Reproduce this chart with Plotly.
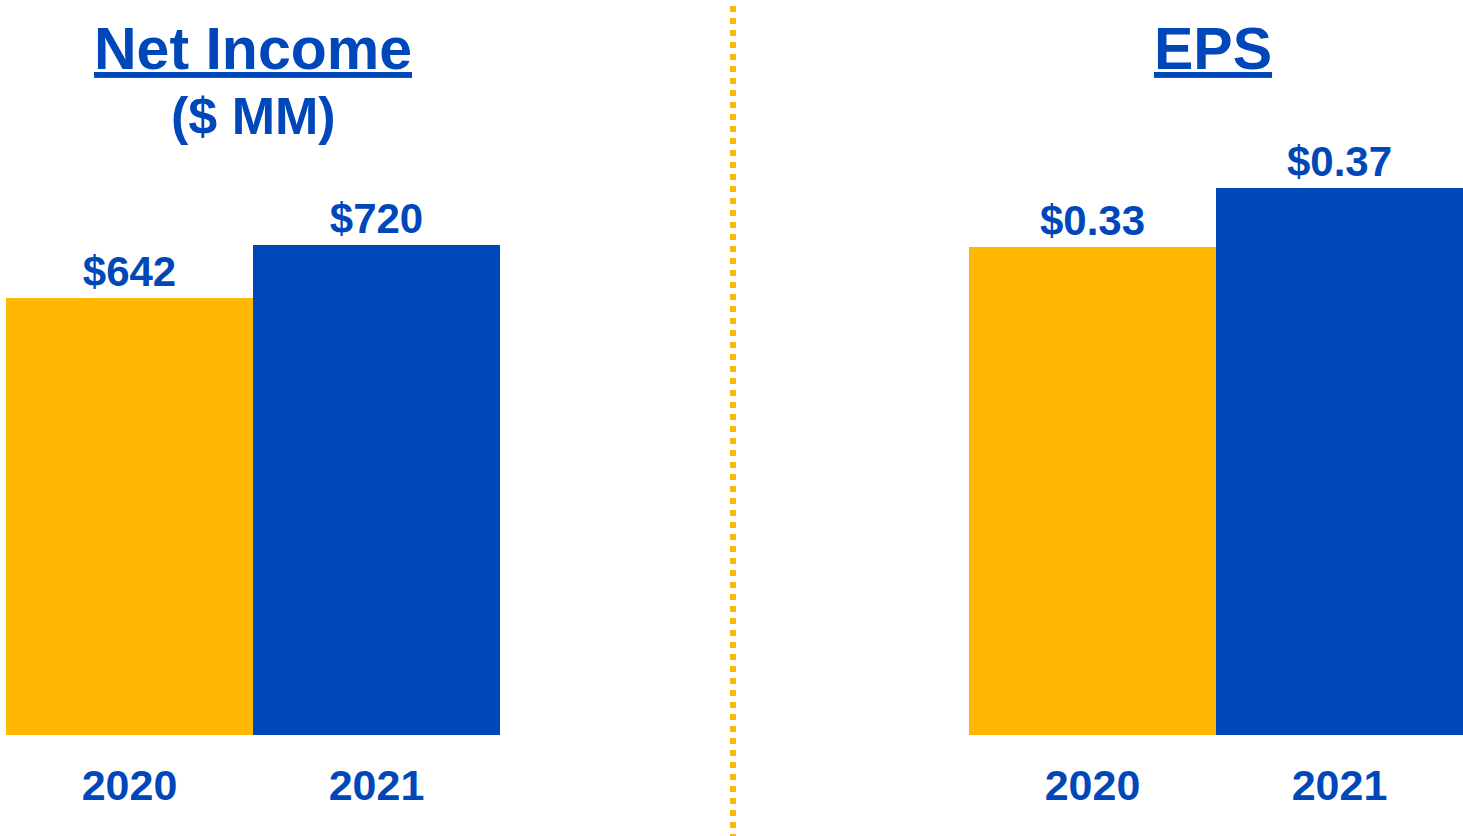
import plotly.graph_objects as go

years = ["2020", "2021"]
net_income = [642, 720]
eps = [0.33, 0.37]
bar_colors = ["#FFB703", "#0047BA"]
text_blue = "#0047BA"
font_family = "Arial, Liberation Sans, sans-serif"

W, H = 1463, 836

fig = go.Figure()
fig.add_trace(go.Bar(
    x=years, y=net_income, xaxis="x", yaxis="y",
    marker=dict(color=bar_colors, line=dict(width=0)),
    texttemplate="$%{y:.0f}", textposition="outside", constraintext="none",
    cliponaxis=False,
    textfont=dict(family=font_family, size=42, color=text_blue, weight="bold"),
    width=1.0, showlegend=False, hoverinfo="skip",
))
fig.add_trace(go.Bar(
    x=years, y=eps, xaxis="x2", yaxis="y2",
    marker=dict(color=bar_colors, line=dict(width=0)),
    texttemplate="$%{y:.2f}", textposition="outside", constraintext="none",
    cliponaxis=False,
    textfont=dict(family=font_family, size=42, color=text_blue, weight="bold"),
    width=1.0, showlegend=False, hoverinfo="skip",
))

ybot = (H - 735) / H
xaxis_common = dict(
    showgrid=False, zeroline=False, showline=False, ticks="",
    tickfont=dict(family=font_family, size=43, color=text_blue, weight="bold"),
    ticklabelstandoff=21, range=[-0.5, 1.5], fixedrange=True,
)
yaxis_common = dict(visible=False, showgrid=False, zeroline=False, fixedrange=True)

fig.update_layout(
    width=W, height=H,
    margin=dict(l=0, r=0, t=0, b=0),
    paper_bgcolor="white", plot_bgcolor="white",
    bargap=0,
    xaxis=dict(domain=[6 / W, 500 / W], anchor="y", **xaxis_common),
    yaxis=dict(domain=[ybot, 1], range=[0, 735 / (437 / 642)], anchor="x", **yaxis_common),
    xaxis2=dict(domain=[969 / W, 1.0], anchor="y2", **xaxis_common),
    yaxis2=dict(domain=[ybot, 1], range=[0, 735 / (488 / 0.33)], anchor="x2", **yaxis_common),
    annotations=[
        dict(text="<u>Net Income</u>", x=253 / W, y=1 - 49 / H, xref="paper", yref="paper",
             xanchor="center", yanchor="middle", showarrow=False,
             font=dict(family=font_family, size=59, color=text_blue, weight="bold")),
        dict(text="($ MM)", x=253 / W, y=1 - 116 / H, xref="paper", yref="paper",
             xanchor="center", yanchor="middle", showarrow=False,
             font=dict(family=font_family, size=52, color=text_blue, weight="bold")),
        dict(text="<u>EPS</u>", x=1213 / W, y=1 - 49 / H, xref="paper", yref="paper",
             xanchor="center", yanchor="middle", showarrow=False,
             font=dict(family=font_family, size=59, color=text_blue, weight="bold")),
    ],
    shapes=[
        dict(type="line", xref="paper", yref="paper", x0=733 / W, x1=733 / W,
             y0=1 + 6 / H, y1=0, line=dict(color="#FFB703", width=6, dash="6px,6px")),
    ],
)

fig.write_html(
    "out.html",
    config={"displayModeBar": False, "staticPlot": True},
    post_script="document.body.style.margin='0';document.body.style.overflow='hidden';",
)
